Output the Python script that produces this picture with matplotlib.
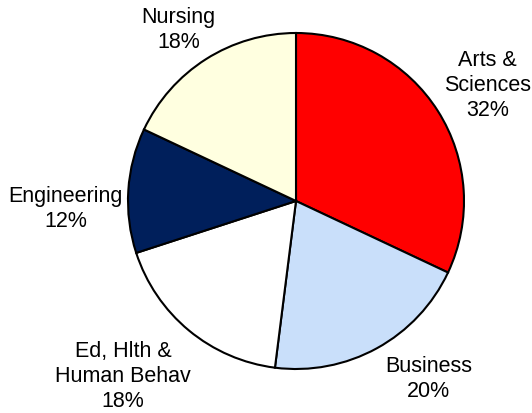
import matplotlib.pyplot as plt

# Enrollment share by college
colleges = ["Arts &\nSciences", "Business", "Ed, Hlth &\nHuman Behav", "Engineering", "Nursing"]
shares = [32, 20, 18, 12, 18]
colors = ["#ff0000", "#c9dffa", "#ffffff", "#001f5b", "#ffffe0"]

# label centres in axes data units (pie radius = 1)
label_pos = [(1.14, 0.69), (0.79, -1.06), (-1.03, -1.045), (-1.37, -0.05), (-0.70, 1.02)]

plt.rcParams['font.family'] = ['Liberation Sans', 'DejaVu Sans']

fig = plt.figure(figsize=(5.32, 4.13), dpi=100)
W, H = 532, 413
cx, cy, r = 296, 201, 168
ax = fig.add_axes([(cx - r) / W, (H - cy - r) / H, 2 * r / W, 2 * r / H])

ax.pie(shares, colors=colors, startangle=90, counterclock=False,
       wedgeprops=dict(edgecolor='black', linewidth=1.5))
ax.set_xlim(-1, 1)
ax.set_ylim(-1, 1)
ax.set_aspect('auto')

for name, pct, (x, y) in zip(colleges, shares, label_pos):
    ax.text(x, y, f"{name}\n{pct}%", ha='center', va='center', fontsize=15.5,
            linespacing=1.25, clip_on=False)

fig.savefig('out.png', dpi=100)
